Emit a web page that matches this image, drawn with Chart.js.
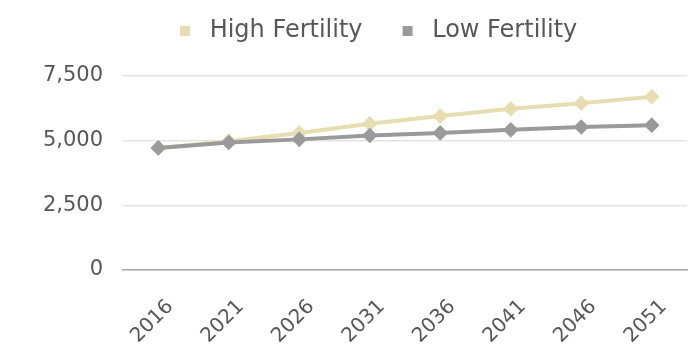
<!DOCTYPE html>
<html>
<head>
<meta charset="utf-8">
<script src="https://cdn.jsdelivr.net/npm/chart.js@4.4.0/dist/chart.umd.min.js"></script>
<style>
  html, body { margin: 0; padding: 0; background: #fff; }
  #wrap { width: 696px; height: 349px; }
</style>
</head>
<body>
<div id="wrap"><canvas id="line-chart"></canvas></div>
<script>
var years = ["2016", "2021", "2026", "2031", "2036", "2041", "2046", "2051"];
var highFertility = [4720, 4980, 5300, 5650, 5950, 6230, 6450, 6700];
var lowFertility = [4720, 4930, 5050, 5200, 5300, 5420, 5530, 5600];
var yTicks = [0, 2500, 5000, 7500];

var highColor = "#e8ddb0";
var lowColor = "#9a9a9a";
var textColor = "#575757";

// move the legend to where it sits in the picture
var legendShift = {
  id: "legendShift",
  afterLayout: function (chart) {
    chart.legend.left = 140;
    chart.legend.top = -21;
  },
};

var config = {
  type: "line",
  data: {
    labels: years,
    datasets: [
      {
        label: "High Fertility",
        data: highFertility,
        borderColor: highColor,
        backgroundColor: highColor,
        borderWidth: 4,
        pointStyle: "rectRot",
        pointRadius: 5,
        fill: false,
        order: 1,
      },
      {
        label: "Low Fertility",
        data: lowFertility,
        borderColor: lowColor,
        backgroundColor: lowColor,
        borderWidth: 4,
        pointStyle: "rectRot",
        pointRadius: 5,
        fill: false,
        order: 0,
      },
    ],
  },
  options: {
    responsive: true,
    maintainAspectRatio: false,
    animation: false,
    layout: { padding: { top: 2, right: 9, bottom: 0, left: 0 } },
    plugins: {
      tooltip: { enabled: false },
      legend: {
        position: "top",
        align: "start",
        labels: {
          boxWidth: 10,
          boxHeight: 10,
          padding: 40,
          color: textColor,
          font: { family: "DejaVu Sans", size: 24 },
          sort: function (a, b) { return a.datasetIndex - b.datasetIndex; },
          generateLabels: function (chart) {
            return chart.data.datasets.map(function (ds, i) {
              return {
                text: " " + ds.label,
                fillStyle: ds.backgroundColor,
                strokeStyle: ds.backgroundColor,
                lineWidth: 0,
                fontColor: textColor,
                hidden: false,
                datasetIndex: i,
              };
            });
          },
        },
      },
    },
    scales: {
      x: {
        offset: true,
        grid: { display: false },
        border: { display: true, color: "#a8a8a8", width: 1.5 },
        ticks: {
          color: textColor,
          font: { family: "DejaVu Sans", size: 20 },
          minRotation: 45,
          maxRotation: 45,
          padding: 17,
          labelOffset: 12,
        },
        afterFit: function (scale) { scale.height = 79; },
      },
      y: {
        min: 0,
        max: 7500,
        afterBuildTicks: function (scale) {
          scale.ticks = yTicks.map(function (v) { return { value: v }; });
        },
        grid: { color: "#e3e3e3", lineWidth: 1.5, drawTicks: false },
        border: { display: false },
        ticks: {
          color: textColor,
          font: { family: "DejaVu Sans", size: 21 },
          padding: 20,
          callback: function (v) { return v.toLocaleString("en-US"); },
        },
        afterFit: function (scale) { scale.width = 123; },
      },
    },
  },
  plugins: [legendShift],
};

var ctx = document.getElementById("line-chart").getContext("2d");
window.myLine = new Chart(ctx, config);
</script>
</body>
</html>
